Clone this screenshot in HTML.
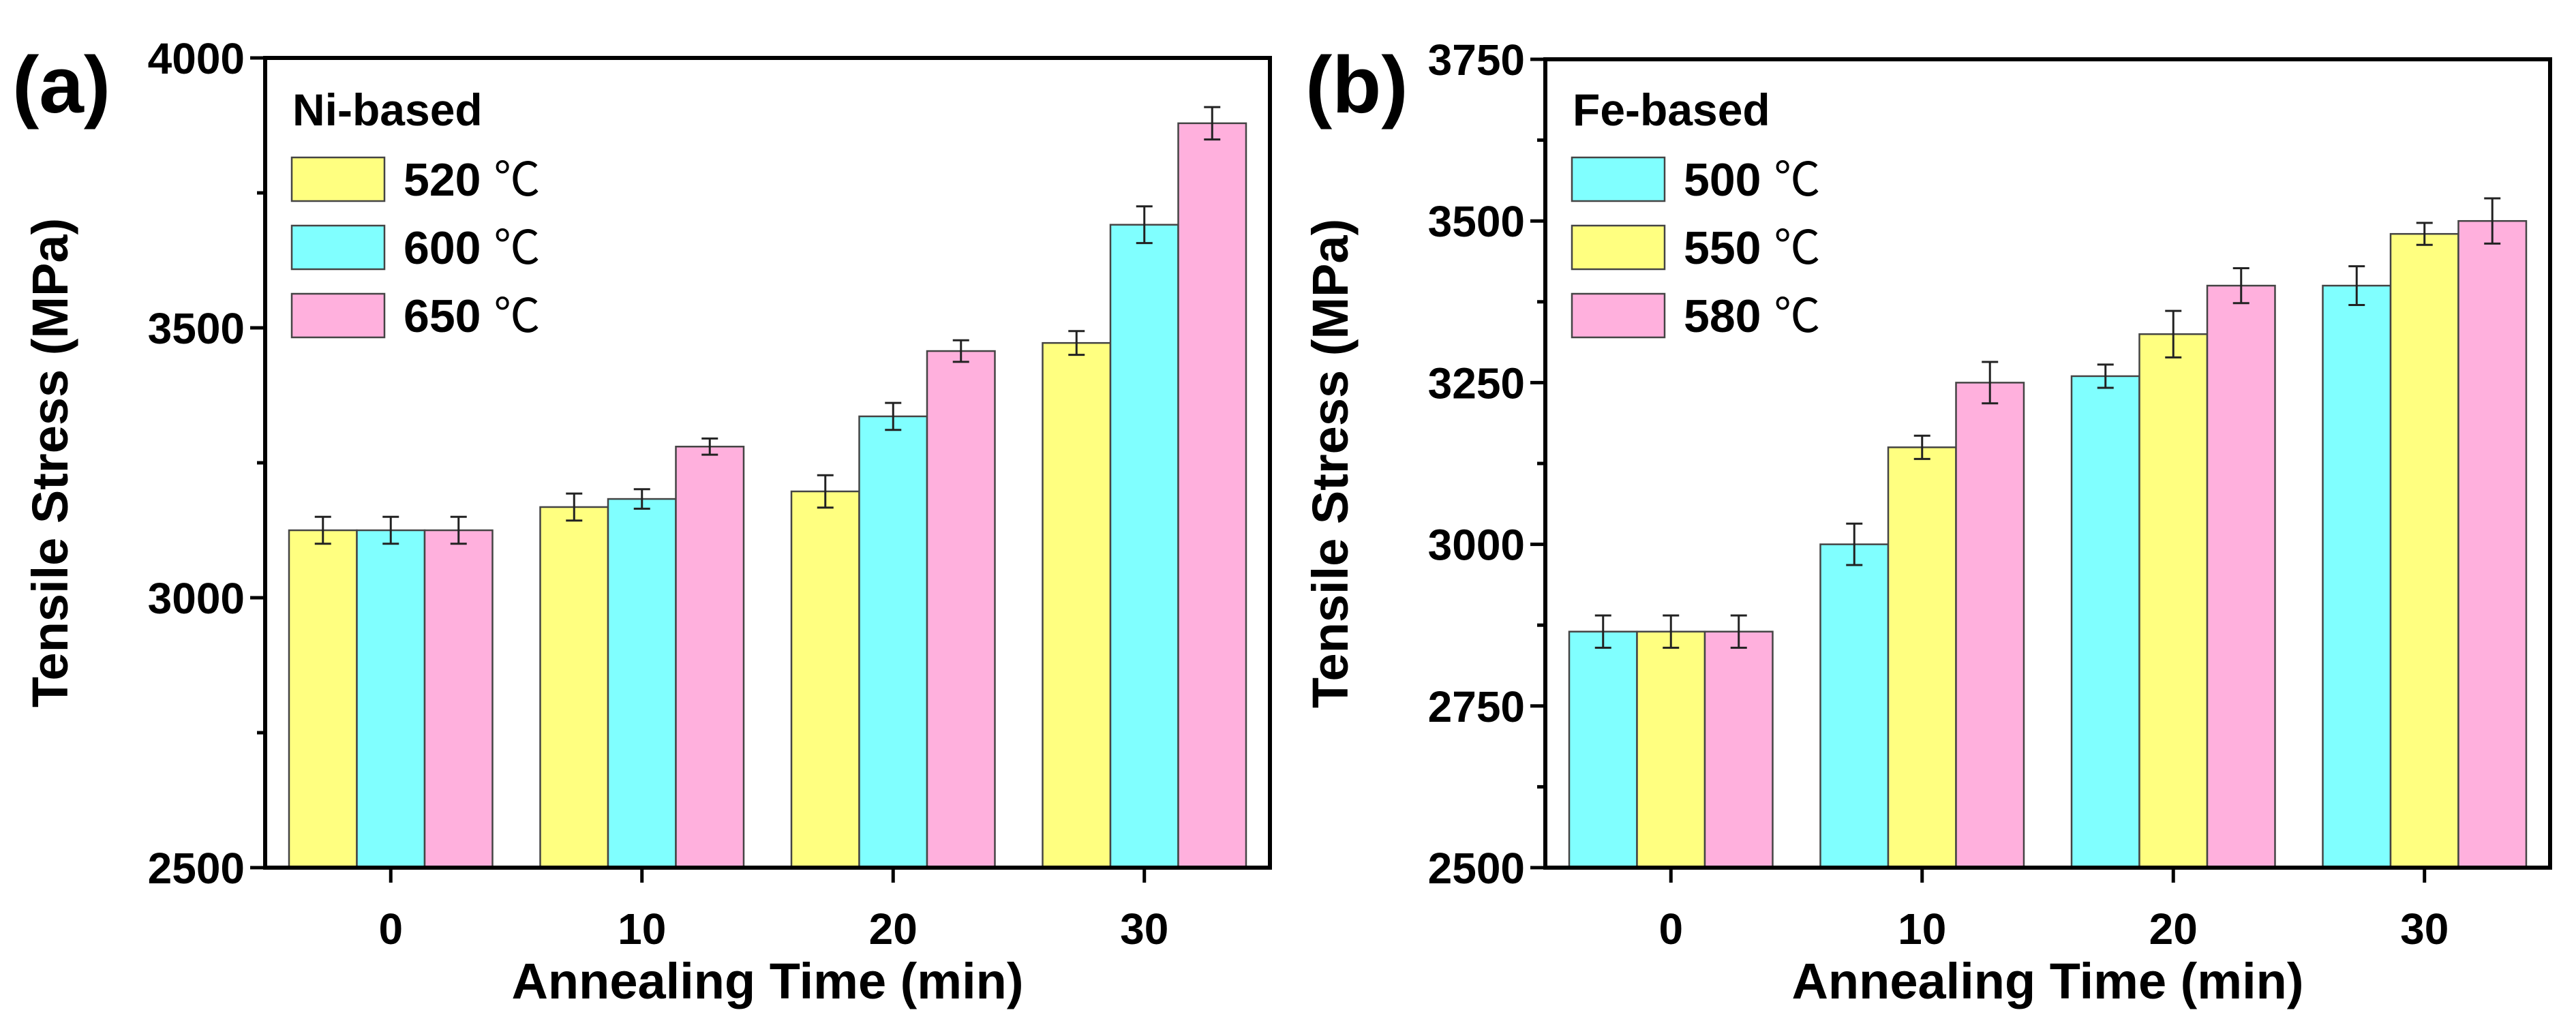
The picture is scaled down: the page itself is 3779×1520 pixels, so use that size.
<!DOCTYPE html>
<html><head><meta charset="utf-8">
<style>
html,body{margin:0;padding:0;background:#fff;}
svg{display:block;}
text{font-family:"Liberation Sans","Noto Sans CJK SC",sans-serif;font-weight:bold;fill:#000;}
</style></head>
<body>
<svg id="fig" width="3779" height="1520" viewBox="0 0 3779 1520" xmlns="http://www.w3.org/2000/svg"></svg>
<script>
// Panel (a) data: Ni-based
const aCategories = ["0","10","20","30"];
const aSeriesNames = ["520 ℃","600 ℃","650 ℃"];
const a520 = [3125, 3168, 3197, 3472];
const a600 = [3125, 3183, 3336, 3691];
const a650 = [3125, 3280, 3457, 3879];
const a520Err = [25, 25, 30, 22];
const a600Err = [25, 18, 25, 34];
const a650Err = [25, 15, 20, 30];
const aYTicks = [2500, 3000, 3500, 4000];
const aYMinor = [2750, 3250, 3750];

// Panel (b) data: Fe-based
const bCategories = ["0","10","20","30"];
const bSeriesNames = ["500 ℃","550 ℃","580 ℃"];
const b500 = [2865, 3000, 3260, 3400];
const b550 = [2865, 3150, 3325, 3480];
const b580 = [2865, 3250, 3400, 3500];
const b500Err = [25, 32, 18, 30];
const b550Err = [25, 18, 36, 17];
const b580Err = [25, 32, 27, 35];
const bYTicks = [2500, 2750, 3000, 3250, 3500, 3750];
const bYMinor = [2625, 2875, 3125, 3375, 3625];

const NS = "http://www.w3.org/2000/svg";
const svg = document.getElementById("fig");
function mk(tag, attrs, parent) {
  const e = document.createElementNS(NS, tag);
  for (const k in attrs) e.setAttribute(k, attrs[k]);
  (parent || svg).appendChild(e);
  return e;
}

function panel(p) {
  const g = mk("g", {});
  
  
  const L = p.left, R = p.right, T = p.top, B = p.bottom;
  const y = v => B - (v - p.ymin) / (p.ymax - p.ymin) * (B - T);
  const band = (R - L) / p.cats.length;
  const xc = i => L + band * (i + 0.5);
  const bw = band * 0.27;

  // bars
  p.series.forEach((vals, s) => {
    vals.forEach((v, i) => {
      const x0 = xc(i) + (s - 1) * bw - bw / 2;
      const r = mk("rect", {x: x0, y: y(v), width: bw, height: B - y(v), fill: p.colors[s], stroke: "#444", "stroke-width": 2.5}, g);
      
      
    });
  });
  // error bars
  p.series.forEach((vals, s) => {
    vals.forEach((v, i) => {
      const cx = xc(i) + (s - 1) * bw;
      const e = p.errs[s][i];
      const eg = mk("g", {stroke: "#222", "stroke-width": 3}, g);
      
      
      mk("line", {x1: cx, x2: cx, y1: y(v + e), y2: y(v - e)}, eg);
      mk("line", {x1: cx - 12, x2: cx + 12, y1: y(v + e), y2: y(v + e)}, eg);
      mk("line", {x1: cx - 12, x2: cx + 12, y1: y(v - e), y2: y(v - e)}, eg);
    });
  });
  // frame
  const fr = mk("rect", {x: L, y: T, width: R - L, height: B - T, fill: "none", stroke: "#000", "stroke-width": 6}, g);
  
  
  // y ticks
  p.yt.forEach(v => {
    mk("line", {x1: L - 22, x2: L, y1: y(v), y2: y(v), stroke: "#000", "stroke-width": 5}, g);
    const t = mk("text", {x: L - 30, y: y(v) + 23, "text-anchor": "end", "font-size": 64}, g);
    t.textContent = v;
    
    
  });
  p.ym.forEach(v => {
    mk("line", {x1: L - 12, x2: L, y1: y(v), y2: y(v), stroke: "#000", "stroke-width": 5}, g);
  });
  // x ticks
  p.cats.forEach((c, i) => {
    mk("line", {x1: xc(i), x2: xc(i), y1: B, y2: B + 22, stroke: "#000", "stroke-width": 5}, g);
    const t = mk("text", {x: xc(i), y: B + 112, "text-anchor": "middle", "font-size": 64}, g);
    t.textContent = c;
    
    
  });
  // axis titles
  const xt = mk("text", {x: (L + R) / 2, y: B + 192, "text-anchor": "middle", "font-size": 74}, g);
  xt.textContent = "Annealing Time (min)";
  
  
  const ytx = L - 290, yty = (T + B) / 2;
  const yt = mk("text", {x: ytx, y: yty, "text-anchor": "middle", "font-size": 74, transform: "rotate(-90 " + ytx + " " + yty + ")"}, g);
  yt.textContent = "Tensile Stress (MPa)";
  
  
  // panel label
  const pl = mk("text", {x: p.labelX, y: 165, "font-size": 118}, g);
  pl.textContent = p.label;
  
  
  // legend
  const lt = mk("text", {x: L + 40, y: 184, "font-size": 66}, g);
  lt.textContent = p.legendTitle;
  
  
  p.names.forEach((n, s) => {
    const ly = 231 + s * 100;
    const lg = mk("g", {}, g);
    
    
    mk("rect", {x: L + 39, y: ly, width: 136, height: 64, fill: p.colors[s], stroke: "#444", "stroke-width": 2.5}, lg);
    const tt = mk("text", {x: L + 203, y: ly + 56, "font-size": 68}, lg);
    tt.textContent = n.replace(' ℃', ' ');
    const ts = mk("tspan", {"font-weight": "normal", "font-family": "'Noto Sans CJK SC',sans-serif"}, tt);
    ts.textContent = "℃";
  });
}

const Y = "#FFFF80", C = "#80FFFF", P = "#FFB0DD";
panel({name: "panel-a-ni-based", key: "a", label: "(a)", labelX: 18, legendTitle: "Ni-based",
  left: 389, right: 1863, top: 85, bottom: 1273, ymin: 2500, ymax: 4000,
  cats: aCategories, names: aSeriesNames, series: [a520, a600, a650], errs: [a520Err, a600Err, a650Err],
  colors: [Y, C, P], yt: aYTicks, ym: aYMinor});
panel({name: "panel-b-fe-based", key: "b", label: "(b)", labelX: 1915, legendTitle: "Fe-based",
  left: 2267, right: 3741, top: 87, bottom: 1273, ymin: 2500, ymax: 3750,
  cats: bCategories, names: bSeriesNames, series: [b500, b550, b580], errs: [b500Err, b550Err, b580Err],
  colors: [C, Y, P], yt: bYTicks, ym: bYMinor});
</script>
</body></html>
